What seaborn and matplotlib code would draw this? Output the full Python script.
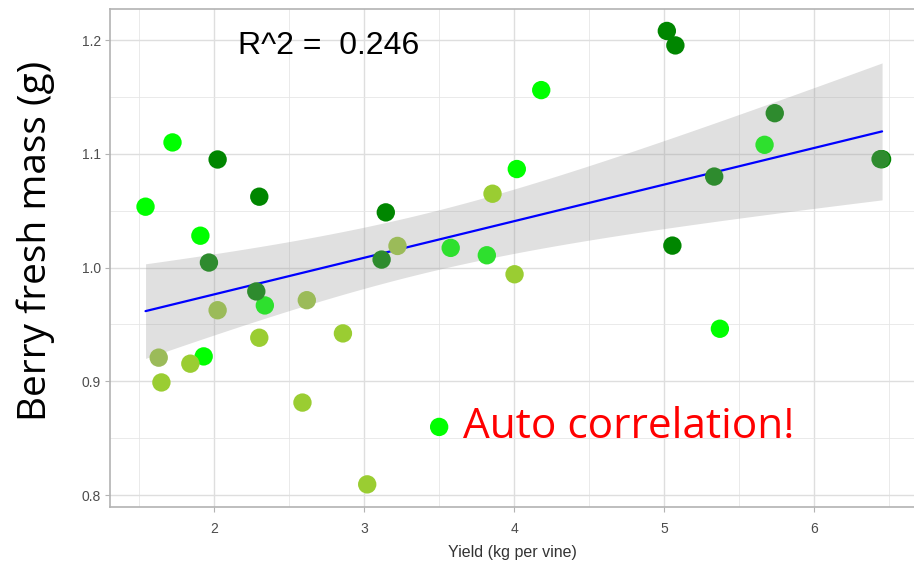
import numpy as np
import pandas as pd
import matplotlib
matplotlib.use("Agg")
import matplotlib.pyplot as plt
import seaborn as sns
from matplotlib.ticker import MultipleLocator

# ---- data ----
yield_lime = [1.541, 1.721, 1.907, 4.181, 4.018, 5.373, 1.929]
mass_lime = [1.0535, 1.110, 1.028, 1.156, 1.0866, 0.9462, 0.9219]
yield_bright = [3.577, 3.818, 5.671, 2.337]
mass_bright = [1.0173, 1.0108, 1.1079, 0.9667]
yield_dark = [2.022, 2.300, 3.144, 5.019, 5.076, 5.056, 6.455]
mass_dark = [1.095, 1.0623, 1.0485, 1.208, 1.1953, 1.0193, 1.0953]
yield_forest = [1.964, 3.116, 5.739, 5.335, 6.445, 2.280]
mass_forest = [1.0044, 1.007, 1.1357, 1.080, 1.0953, 0.979]
yield_olive = [3.222, 2.022, 2.617, 1.629]
mass_olive = [1.019, 0.9625, 0.9713, 0.9208]
yield_yg = [3.856, 4.003, 2.300, 2.858, 1.840, 1.647, 2.588, 3.020]
mass_yg = [1.0649, 0.9941, 0.9383, 0.9421, 0.9155, 0.899, 0.8813, 0.8094]

group_colors = {
    "lime": "#00FF00",
    "bright": "#2EE02E",
    "dark": "#008600",
    "forest": "#2E8B2E",
    "olive": "#9BBB59",
    "yellowgreen": "#9ACD32",
}

r2_label = "R^2 =  0.246"
note_label = "Auto correlation!"
note_point = (3.50, 0.8599)
x_ticks = [2, 3, 4, 5, 6]
y_ticks = [0.8, 0.9, 1.0, 1.1, 1.2]

frames = []
for g, xs, ys in [("lime", yield_lime, mass_lime), ("bright", yield_bright, mass_bright),
                  ("dark", yield_dark, mass_dark), ("forest", yield_forest, mass_forest),
                  ("olive", yield_olive, mass_olive), ("yellowgreen", yield_yg, mass_yg)]:
    frames.append(pd.DataFrame({"yield": xs, "mass": ys, "group": g}))
df = pd.concat(frames, ignore_index=True)

# ---- linear fit with analytic 95% CI (like geom_smooth(method='lm')) ----
x = df["yield"].to_numpy()
y = df["mass"].to_numpy()
n = len(x)
b1, b0 = np.polyfit(x, y, 1)
resid = y - (b0 + b1 * x)
s = np.sqrt(np.sum(resid ** 2) / (n - 2))
sxx = np.sum((x - x.mean()) ** 2)
t_crit = 2.032
xg = np.linspace(x.min(), x.max(), 80)
yg = b0 + b1 * xg
se = s * np.sqrt(1 / n + (xg - x.mean()) ** 2 / sxx)
fit = pd.DataFrame({"yield": xg, "mass": yg})

# ---- figure ----
sns.set_theme(style="white")
plt.rcParams["font.family"] = ["Liberation Sans", "DejaVu Sans"]
fig = plt.figure(figsize=(9.14, 5.65), dpi=100)
ax = fig.add_axes([110 / 914, 58 / 565, 804 / 914, 498 / 565])

ax.set_xlim(1.304, 6.668)
ax.set_ylim(0.7895, 1.2273)

ax.xaxis.set_major_locator(MultipleLocator(1))
ax.xaxis.set_minor_locator(MultipleLocator(0.5))
ax.yaxis.set_major_locator(MultipleLocator(0.1))
ax.yaxis.set_minor_locator(MultipleLocator(0.05))
ax.grid(which="major", color="#DEDEDE", lw=1.0)
ax.grid(which="minor", color="#E6E6E6", lw=0.6)
ax.set_axisbelow(True)

ax.fill_between(xg, yg - t_crit * se, yg + t_crit * se, color="#999999", alpha=0.3, lw=0, zorder=2)
sns.lineplot(data=fit, x="yield", y="mass", color="#0000FF", lw=1.6, ax=ax, zorder=3)
sns.scatterplot(data=df, x="yield", y="mass", hue="group", palette=group_colors,
                s=175, edgecolor="none", linewidth=0, legend=False, ax=ax, zorder=4)

ax.scatter([note_point[0]], [note_point[1]], s=175, color="#00FF00", edgecolor="none", zorder=4)
ax.text(note_point[0] + 0.16, note_point[1], note_label, color="#FF0000",
        fontsize=30.5, family=["Open Sans", "DejaVu Sans"], va="center", ha="left", zorder=5)
ax.text(2.76, 1.195, r2_label, color="black", fontsize=23, ha="center", va="center", zorder=5)

ax.set_xticks(x_ticks)
ax.set_yticks(y_ticks)
ax.set_xticklabels([str(v) for v in x_ticks])
ax.set_yticklabels([f"{v:.1f}" for v in y_ticks])
ax.tick_params(axis="both", which="major", length=3.5, width=0.8, color="#B3B3B3",
               labelcolor="#4D4D4D", labelsize=10, bottom=True, left=True)
ax.tick_params(axis="x", pad=7)
ax.tick_params(axis="y", pad=3)
ax.tick_params(which="minor", length=0)

for side in ["left", "bottom", "top"]:
    ax.spines[side].set_color("#B3B3B3")
    ax.spines[side].set_linewidth(1.2)
ax.spines["right"].set_visible(False)

ax.set_xlabel("Yield (kg per vine)", fontsize=11.5, color="#333333", labelpad=7)
ax.set_ylabel("")
fig.text(36 / 914, 1 - 241 / 565, "Berry fresh mass (g)", rotation=90, ha="center", va="center",
         fontsize=28, family=["Open Sans", "DejaVu Sans"], color="black")

fig.savefig("out.png", dpi=100)
